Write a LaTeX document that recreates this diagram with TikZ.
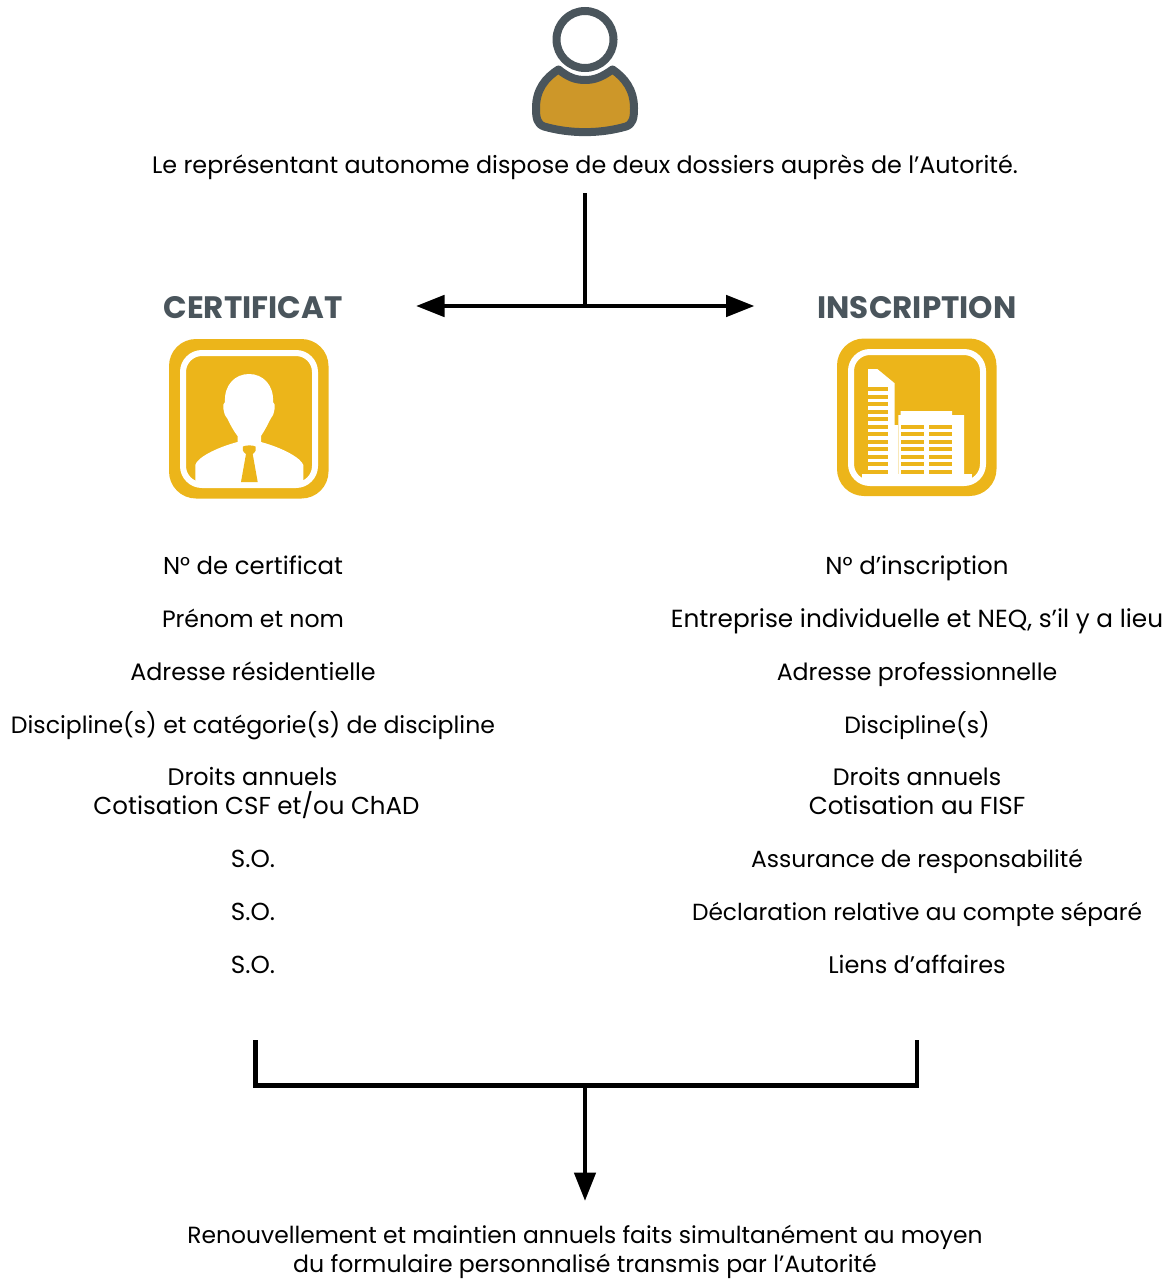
\documentclass[tikz,border=0pt]{standalone}
\usepackage{fontspec}
\setmainfont{Poppins}
\usetikzlibrary{arrows.meta}
\definecolor{slateg}{HTML}{4A555C}
\definecolor{ochre}{HTML}{CD9729}
\definecolor{gold}{HTML}{ECB51A}
\tikzset{
  x=1pt,y=-1pt,
  bodytext/.style={font=\fontsize{#1}{29}\selectfont,text=black,align=center,inner sep=0pt,anchor=center},
  bodytext/.default=24,
  heading/.style={font=\fontsize{31}{33}\selectfont\bfseries,text=slateg,inner sep=0pt,anchor=base},
  conn/.style={line width=4.7pt,draw=black},
  tipped/.style={conn,-{Triangle[length=28.5pt,width=21pt]}},
  both/.style={conn,{Triangle[length=28.5pt,width=21pt]}-{Triangle[length=28.5pt,width=21pt]}},
}
\begin{document}
\begin{tikzpicture}
\useasboundingbox (0,0) rectangle (1174,1279);
% person icon
\draw[slateg,line width=8pt,fill=white] (585,39.5) circle (28.5);
\draw[slateg,line width=8pt,fill=ochre,line join=round]
  (558.5,69.5) .. controls (568,77) and (575,80) .. (585,80)
  .. controls (595,80) and (602,77) .. (612.5,69.5)
  .. controls (625,78) and (634,90) .. (634,108)
  .. controls (634,118) and (633,124) .. (626,126.5)
  .. controls (600,134) and (570,134) .. (544,126.5)
  .. controls (537,124) and (536,118) .. (536,108)
  .. controls (536,90) and (545,78) .. (558.5,69.5) -- cycle;
% intro
\node[bodytext=23.83] (intro) at (585,167.2) {\strut Le représentant autonome dispose de deux dossiers auprès de l’Autorité.};
\coordinate (introfoot) at (585,193);
\node[heading] (cert) at (253,318) {CERTIFICAT};
\node[heading] (insc) at (917,318) {INSCRIPTION};
\coordinate (tee) at (585,306);
\coordinate (leftend) at (416,306);
\coordinate (rightend) at (754.5,306);
\draw[conn] (introfoot) -- (tee);
\draw[both] (leftend) -- (rightend);
% certificate icon
\fill[gold,rounded corners=27pt] (169,339) rectangle (328.5,498.5);
\draw[white,line width=6pt,rounded corners=19pt] (183,353) rectangle (315,485);
\fill[white]
  (225,483) -- (195.3,483) -- (195.3,465)
  .. controls (197,458) and (215,448) .. (237.5,442)
  -- (237.5,436) .. controls (233,430) and (230,424) .. (227,418)
  .. controls (223,414) and (222,403) .. (225,402)
  .. controls (224,385) and (235,374) .. (249,374)
  .. controls (263,374) and (274,385) .. (273,402)
  .. controls (276,403) and (275,414) .. (271,418)
  .. controls (268,424) and (265,430) .. (261,436)
  -- (261,442) .. controls (283,448) and (301,458) .. (303.3,465)
  -- (303.3,483) -- cycle;
\fill[gold] (241,482) -- (246,454) .. controls (243,452) and (241.5,449) .. (243,446.5)
  .. controls (246,445) and (253,445) .. (255.5,446.5)
  .. controls (257,449) and (255.5,452) .. (252.7,454) -- (257.7,482) -- cycle;
% inscription icon
\fill[gold,rounded corners=27pt] (837,338.5) rectangle (996.5,496);
\draw[white,line width=6pt,rounded corners=19pt] (851,352) rectangle (983,483);
\fill[white] (868,369) -- (877.3,369) -- (894.7,383.3) -- (894.7,425) -- (898,425) -- (898,475) -- (868,475) -- cycle;
\fill[white] (900.7,411) -- (900.7,415) -- (898.3,415) -- (898.3,475) -- (964,475) -- (964,415) -- (952,415) -- (952,411) -- cycle;
\fill[white] (861.5,474) -- (861.5,484) -- (972,484) -- (972,474) -- cycle;
\foreach \yy in {389.2,396.7,404.2,411.7,419.2,426.7,434.2,441.7,449.2,456.7,464.2,471.7}{
  \fill[gold] (868,\yy-1.9) rectangle (888.4,\yy+1.9);
}
\foreach \yy in {426.7,434.2,441.7,449.2,456.7,464.2,471.7}{
  \fill[gold] (900.7,\yy-1.9) rectangle (923.7,\yy+1.9);
  \fill[gold] (929,\yy-1.9) rectangle (952,\yy+1.9);
}
% columns
\node[bodytext=24.4] (c1) at (253,568.2) {\strut N° de certificat};
\node[bodytext=23.6] (c2) at (253,621.2) {\strut Prénom et nom};
\node[bodytext=23.8] (c3) at (253,674.2) {\strut Adresse résidentielle};
\node[bodytext=23.6] (c4) at (253,727.2) {\strut Discipline(s) et catégorie(s) de discipline};
\node[bodytext=24.5] (c5) at (256.5,793.7) {\strut{\fontsize{23.9}{29}\selectfont Droits annuels}\hspace*{8pt}\\\strut Cotisation CSF et\smash{/}ou ChAD};
\node[bodytext=24.6] (c6) at (253,861.2) {\strut S.O.};
\node[bodytext=24.6] (c7) at (253,914.2) {\strut S.O.};
\node[bodytext=24.6] (c8) at (253,967.2) {\strut S.O.};
\node[bodytext=24.5] (i1) at (917,568.2) {\strut N° d’inscription};
\node[bodytext=24.75] (i2) at (917,621.2) {\strut Entreprise individuelle et NEQ, s’il y a lieu};
\node[bodytext=23.66] (i3) at (917,674.2) {\strut Adresse professionnelle};
\node[bodytext=23.5] (i4) at (917,727.2) {\strut Discipline(s)};
\node[bodytext=24.6] (i5) at (917,793.7) {\strut{\fontsize{23.7}{29}\selectfont Droits annuels}\\\strut Cotisation au FISF};
\node[bodytext=23.4] (i6) at (917,861.2) {\strut Assurance de responsabilité};
\node[bodytext=23.3] (i7) at (917,914.2) {\strut Déclaration relative au compte séparé};
\node[bodytext=24] (i8) at (917,967.2) {\strut Liens d’affaires};
% bracket
\coordinate (bl) at (255.5,1040);
\coordinate (br) at (917,1040);
\coordinate (bm) at (585,1085.5);
\coordinate (bend) at (585,1201);
\draw[conn,line join=miter] (bl) |- (bm) -| (br);
\draw[tipped] (bm) -- (bend);
\node[bodytext=23.4,anchor=north] (outro) at (585,1223) {\strut Renouvellement et maintien annuels faits simultanément au moyen\\{\fontsize{23.6}{29}\selectfont du formulaire personnalisé transmis par l’Autorité}};
\end{tikzpicture}
\end{document}
